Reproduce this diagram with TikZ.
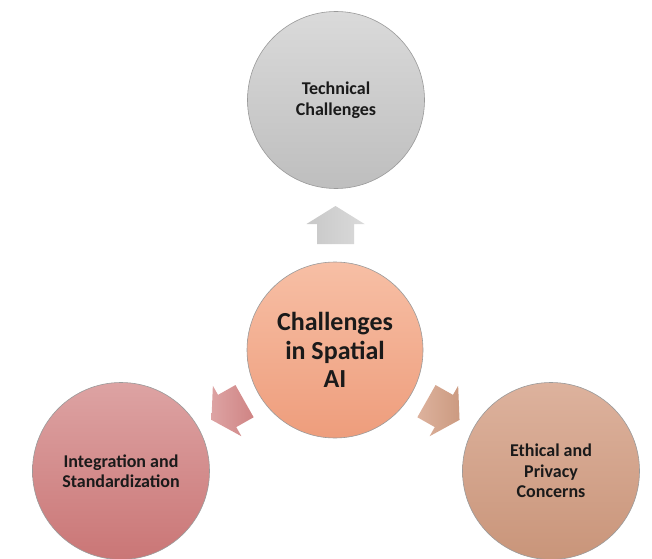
\documentclass[tikz,border=0pt]{standalone}
\usepackage{fontspec}
\setmainfont{Carlito}
\usetikzlibrary{calc}
\definecolor{txt}{HTML}{1A1A1A}
\definecolor{greyT}{HTML}{DADADA}
\definecolor{greyB}{HTML}{BEBEBE}
\definecolor{salT}{HTML}{F7BFA5}
\definecolor{salB}{HTML}{EE9D7C}
\definecolor{roseT}{HTML}{DDA3A3}
\definecolor{roseB}{HTML}{CA7676}
\definecolor{tanT}{HTML}{DDB29D}
\definecolor{tanB}{HTML}{C9957A}
\definecolor{rim}{HTML}{9A9A9A}
\tikzset{
  bubble/.style={circle, minimum size=177pt, inner sep=0pt, draw=rim, line width=0.6pt,
    align=center, text=txt, font=\bfseries\fontsize{18}{20.5}\selectfont},
  hub/.style={bubble, minimum size=176pt, font=\bfseries\fontsize{26}{28.5}\selectfont},
  blockarrow/.style={draw=none}
}
\newcommand{\blockarrowpath}{(-19,-18.5) -- (1,-18.5) -- (1,-29) -- (19,0) -- (1,29) -- (1,18.5) -- (-19,18.5) -- cycle}
\begin{document}
\begin{tikzpicture}[x=1pt,y=1pt]
\useasboundingbox (0,0) rectangle (652,558);
\fill[white] (0,0) rectangle (652,558);
\node[bubble, top color=greyT, bottom color=greyB] (top) at (336,458) {Technical\\Challenges};
\node[hub, top color=salT, bottom color=salB] (ctr) at (335,208) {Challenges\\in Spatial\\AI};
\node[bubble, top color=roseT, bottom color=roseB] (left) at (121,87) {Integration and\\Standardization};
\node[bubble, top color=tanT, bottom color=tanB] (right) at (551,87) {Ethical and\\Privacy\\Concerns};
\coordinate (aup) at ($(ctr)!0.5!(top)$);
\coordinate (aleft) at ($(ctr)!0.5!(left)$);
\coordinate (aright) at ($(ctr)!0.5!(right)$);
\begin{scope}[shift={(aup)}, rotate=90]
  \path[blockarrow, left color=greyB!85, right color=greyT] \blockarrowpath;
\end{scope}
\begin{scope}[shift={(aleft)}, rotate=209.5]
  \path[blockarrow, left color=roseT, right color=roseB!90] \blockarrowpath;
\end{scope}
\begin{scope}[shift={(aright)}, rotate=330.5]
  \path[blockarrow, left color=tanT, right color=tanB!95] \blockarrowpath;
\end{scope}
\end{tikzpicture}
\end{document}
